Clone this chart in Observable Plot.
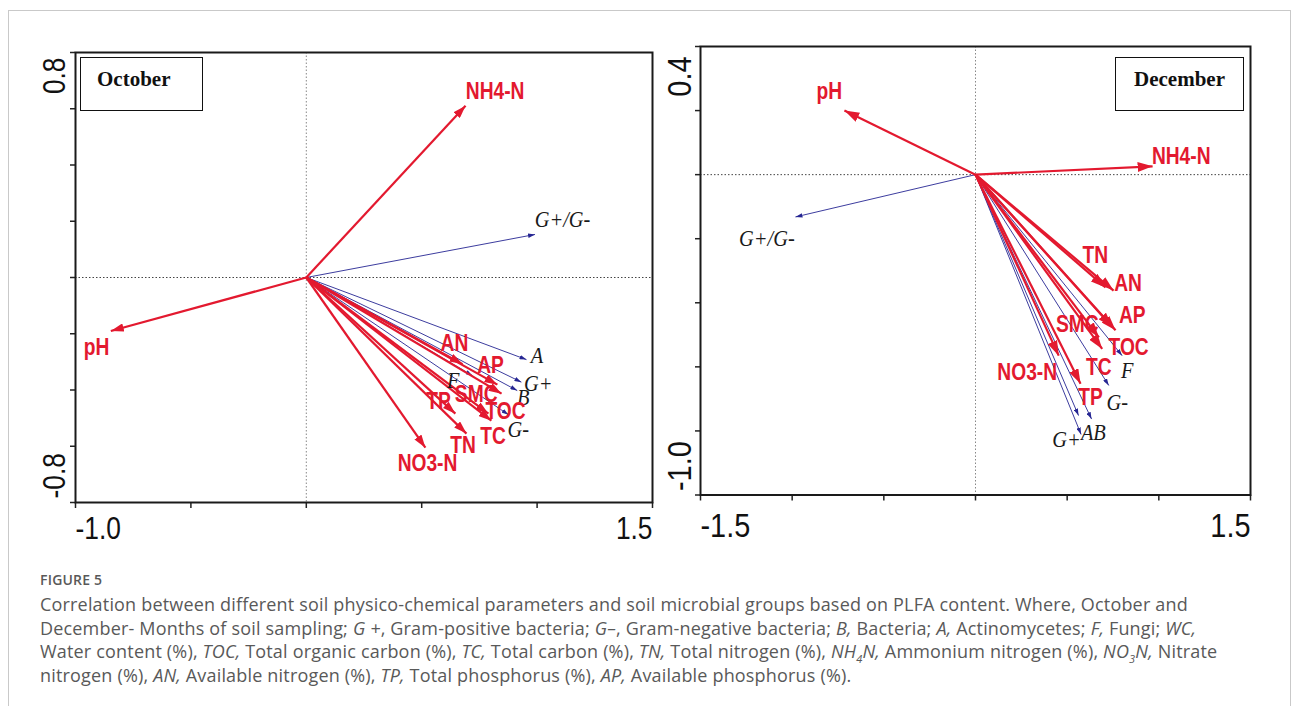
<!DOCTYPE html>
<html>
<head>
<meta charset="utf-8">
<script src="https://cdn.jsdelivr.net/npm/d3@7"></script>
<script src="https://cdn.jsdelivr.net/npm/@observablehq/plot@0.6"></script>
<style>
  html, body { margin: 0; padding: 0; background: #fff; }
  body { width: 1293px; height: 706px; position: relative; overflow: hidden; }
  #border { position: absolute; left: 8px; top: 10px; width: 1283px; height: 760px; border: 1.5px solid #c9c9c9; box-sizing: border-box; }
  #oct { position: absolute; left: 0; top: 0; }
  #dec { position: absolute; left: 660px; top: 0; }
  .tag { position: absolute; border: 1.6px solid #111; background: #fff; box-sizing: border-box;
         font: bold 21px/1 "Liberation Serif", "Times New Roman", serif; color: #111;
         display: flex; align-items: flex-start; padding-top: 11px; }
  #tagOct { left: 80px; top: 57px; width: 123px; height: 54px; padding-left: 16px; }
  #tagDec { left: 1115px; top: 57px; width: 129px; height: 54px; justify-content: center; }
  #caption { position: absolute; left: 40px; top: 570px; font-family: "Open Sans", sans-serif; color: #595959; white-space: nowrap; }
  #caption .fig { font-size: 14px; font-weight: 600; letter-spacing: 0.2px; margin-bottom: 4px; }
  #caption .txt { font-size: 18px; letter-spacing: 0.18px; line-height: 23.5px; }
  #caption sub { font-size: 11px; line-height: 0; }
</style>
</head>
<body>
<div id="border"></div>
<div id="oct"></div>
<div id="dec"></div>
<div class="tag" id="tagOct">October</div>
<div class="tag" id="tagDec">December</div>
<div id="caption">
  <div class="fig">FIGURE 5</div>
  <div class="txt">Correlation between different soil physico-chemical parameters and soil microbial groups based on PLFA content. Where, October and<br>December- Months of soil sampling; <i>G +</i>, Gram-positive bacteria; <i>G–</i>, Gram-negative bacteria; <i>B,</i> Bacteria; <i>A,</i> Actinomycetes; <i>F,</i> Fungi; <i>WC,</i><br>Water content (%), <i>TOC,</i> Total organic carbon (%), <i>TC,</i> Total carbon (%), <i>TN,</i> Total nitrogen (%), <i>NH<sub>4</sub>N,</i> Ammonium nitrogen (%), <i>NO<sub>3</sub>N,</i> Nitrate<br>nitrogen (%), <i>AN,</i> Available nitrogen (%), <i>TP,</i> Total phosphorus (%), <i>AP,</i> Available phosphorus (%).</div>
</div>
<script>
// ---------- October data ----------
const octEnvNames = ["NH4-N", "pH", "AN", "AP", "SMC", "TOC", "TC", "TP", "TN", "NO3-N"];
const octEnvX     = [0.690, -0.847, 0.677, 0.828, 0.846, 0.789, 0.802, 0.646, 0.694, 0.516];
const octEnvY     = [0.611, -0.190, -0.308, -0.381, -0.413, -0.484, -0.509, -0.484, -0.555, -0.605];
const octEnvLX    = [0.818, -0.909, 0.642, 0.798, 0.736, 0.863, 0.809, 0.573, 0.679, 0.525];
const octEnvLY    = [0.662, -0.247, -0.235, -0.313, -0.416, -0.477, -0.566, -0.440, -0.596, -0.660];
const octBioNames = ["G+/G-", "A", "G+", "B", "F", "G-"];
const octBioX     = [0.991, 0.954, 0.932, 0.914, 0.720, 0.876];
const octBioY     = [0.153, -0.292, -0.372, -0.402, -0.349, -0.488];
const octBioLX    = [1.110, 1.000, 1.005, 0.940, 0.637, 0.918];
const octBioLY    = [0.208, -0.278, -0.377, -0.427, -0.367, -0.539];
const octXTicks   = [-1.0, -0.5, 0, 0.5, 1.0, 1.5];
const octYTicks   = [-0.8, -0.6, -0.4, -0.2, 0, 0.2, 0.4, 0.6, 0.8];

// ---------- December data ----------
const decEnvNames = ["pH", "NH4-N", "TN", "AN", "AP", "TOC", "SMC", "TC", "NO3-N", "TP"];
const decEnvX     = [-0.715, 0.966, 0.709, 0.753, 0.764, 0.746, 0.673, 0.691, 0.454, 0.573];
const decEnvY     = [0.200, 0.026, -0.352, -0.362, -0.486, -0.476, -0.508, -0.544, -0.565, -0.653];
const decEnvLX    = [-0.797, 1.122, 0.654, 0.832, 0.855, 0.835, 0.555, 0.673, 0.282, 0.627];
const decEnvLY    = [0.261, 0.058, -0.251, -0.339, -0.440, -0.539, -0.468, -0.601, -0.617, -0.695];
const decBioNames = ["G+/G-", "F", "G-", "A", "B", "G+"];
const decBioX     = [-0.982, 0.800, 0.727, 0.562, 0.633, 0.576];
const decBioY     = [-0.132, -0.565, -0.658, -0.752, -0.763, -0.811];
const decBioLX    = [-1.138, 0.827, 0.773, 0.609, 0.676, 0.496];
const decBioLY    = [-0.198, -0.612, -0.711, -0.805, -0.805, -0.827];
const decXTicks   = [-1.5, -1.0, -0.5, 0, 0.5, 1.0, 1.5];
const decYTicks   = [0.4, 0.2, 0, -0.2, -0.4, -0.6, -0.8, -1.0];

const RED = "#e3192f";
const BLUE = "#262693";
const LABEL_FONT = '"Liberation Sans", Arial, sans-serif';
const AXIS_FONT = '"Liberation Sans", Arial, sans-serif';
const ITAL_FONT = '"Liberation Serif", "Times New Roman", serif';

function rows(names, xs, ys, lxs, lys) {
  return names.map((name, i) => ({name, x: xs[i], y: ys[i], lx: lxs[i], ly: lys[i]}));
}

// filled triangular arrowhead marker
function head(len, wid) {
  return (color, context) => {
    const m = d3.create("svg:marker")
      .attr("viewBox", `${-len} ${-wid / 2} ${len} ${wid}`)
      .attr("markerUnits", "userSpaceOnUse")
      .attr("markerWidth", len)
      .attr("markerHeight", wid)
      .attr("refX", 0).attr("refY", 0)
      .attr("orient", "auto")
      .attr("fill", color)
      .attr("stroke", "none");
    m.append("path").attr("d", `M${-len},${-wid / 2}L0,0L${-len},${wid / 2}Z`);
    return m.node();
  };
}

// horizontally condense rendered text (narrow CanoDraw-like lettering)
function condense(k) {
  return function (index, scales, values, dims, context, next) {
    const g = next(index, scales, values, dims, context);
    d3.select(g).selectAll("text").each(function () {
      const t = this.getAttribute("transform") || "";
      this.setAttribute("transform", `${t} scale(${k},1)`);
      const x = this.getAttribute("x");
      if (x != null && /^-?[\d.]+$/.test(x)) this.setAttribute("x", +x / k);
    });
    return g;
  };
}

function biplot(cfg) {
  const env = rows(cfg.envNames, cfg.envX, cfg.envY, cfg.envLX, cfg.envLY);
  const bio = rows(cfg.bioNames, cfg.bioX, cfg.bioY, cfg.bioLX, cfg.bioLY);
  const xt = cfg.xTicks, yt = cfg.yTicks;
  const xMin = d3.min(xt), xMax = d3.max(xt), yMin = d3.min(yt), yMax = d3.max(yt);
  const axisText = {fontSize: cfg.axisSize, fontFamily: AXIS_FONT, fill: "#111", render: condense(0.85)};
  return Plot.plot({
    width: cfg.width, height: cfg.height,
    marginLeft: cfg.ml, marginRight: cfg.mr, marginTop: cfg.mt, marginBottom: cfg.mb,
    x: {domain: [xMin, xMax]},
    y: {domain: [yMin, yMax]},
    style: {background: "transparent", overflow: "visible"},
    marks: [
      Plot.ruleX([0], {stroke: "#888", strokeWidth: 1, strokeDasharray: "1.5,2"}),
      Plot.ruleY([0], {stroke: "#444", strokeWidth: 1, strokeDasharray: "1.5,2"}),
      Plot.axisX(xt, {tickSize: 6, tickFormat: () => "", label: null, stroke: "#222", strokeWidth: 1.5}),
      Plot.axisY(yt, {tickSize: 5, tickFormat: () => "", label: null, stroke: "#222", strokeWidth: 1.5}),
      Plot.frame({stroke: "#1a1a1a", strokeWidth: 2}),
      // axis end labels (CanoDraw style)
      Plot.text([xMin], {...axisText, x: d => d, text: d => d.toFixed(1), frameAnchor: "bottom", textAnchor: "start", lineAnchor: "top", dy: cfg.xdy}),
      Plot.text([xMax], {...axisText, x: d => d, text: d => d.toFixed(1), frameAnchor: "bottom", textAnchor: "end", lineAnchor: "top", dy: cfg.xdy}),
      Plot.text([yMax], {...axisText, y: d => d, text: d => d.toFixed(1), frameAnchor: "left", rotate: -90, textAnchor: "end", lineAnchor: "middle", dx: -20, dy: cfg.topdy}),
      Plot.text([yMin], {...axisText, y: d => d, text: d => d.toFixed(1), frameAnchor: "left", rotate: -90, textAnchor: "start", lineAnchor: "middle", dx: -20, dy: -4}),
      // microbial group arrows
      Plot.link(bio, {x1: 0, y1: 0, x2: "x", y2: "y", stroke: BLUE, strokeWidth: 0.9, markerEnd: head(7, 4.5)}),
      // environmental arrows
      Plot.link(env, {x1: 0, y1: 0, x2: "x", y2: "y", stroke: RED, strokeWidth: 2.2, markerEnd: head(cfg.headLen, cfg.headWid)}),
      Plot.text(bio, {x: "lx", y: "ly", text: "name", fill: "#1a1a1a", fontSize: 24, fontStyle: "italic", fontFamily: ITAL_FONT, textAnchor: "middle", lineAnchor: "middle", render: condense(0.85)}),
      Plot.text(env, {x: "lx", y: "ly", text: "name", fill: RED, fontSize: 24, fontWeight: "bold", fontFamily: LABEL_FONT, textAnchor: "middle", lineAnchor: "middle", render: condense(0.8)})
    ]
  });
}

document.getElementById("oct").append(biplot({
  envNames: octEnvNames, envX: octEnvX, envY: octEnvY, envLX: octEnvLX, envLY: octEnvLY,
  bioNames: octBioNames, bioX: octBioX, bioY: octBioY, bioLX: octBioLX, bioLY: octBioLY,
  xTicks: octXTicks, yTicks: octYTicks,
  width: 660, height: 560, ml: 75, mr: 8, mt: 52, mb: 58,
  axisSize: 31, xdy: 14, topdy: 5, headLen: 13, headWid: 8.5
}));

document.getElementById("dec").append(biplot({
  envNames: decEnvNames, envX: decEnvX, envY: decEnvY, envLX: decEnvLX, envLY: decEnvLY,
  bioNames: decBioNames, bioX: decBioX, bioY: decBioY, bioLX: decBioLX, bioLY: decBioLY,
  xTicks: decXTicks, yTicks: decYTicks,
  width: 633, height: 560, ml: 40, mr: 43, mt: 46, mb: 65.5,
  axisSize: 34, xdy: 18, topdy: 10, headLen: 15, headWid: 10
}));
</script>
</body>
</html>
